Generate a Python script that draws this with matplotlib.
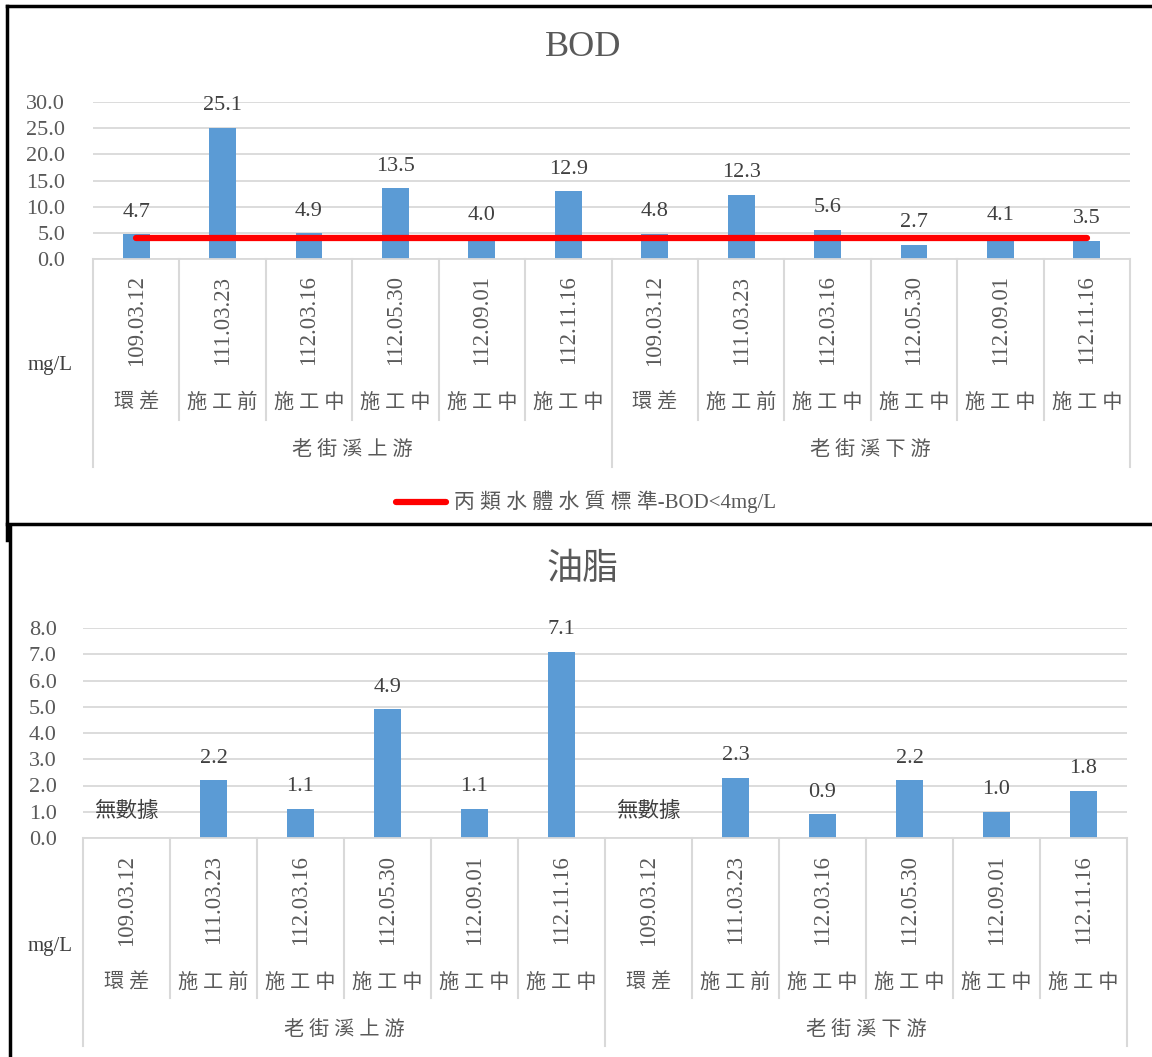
import matplotlib
matplotlib.use('Agg')
import matplotlib.pyplot as plt
from matplotlib.lines import Line2D
import matplotlib.transforms as mtrans
import numpy as np

FAM = ['Liberation Serif', 'Noto Sans CJK TC']
plt.rcParams['font.family'] = FAM

# ---------------- data ----------------
dates = ['109.03.12', '111.03.23', '112.03.16', '112.05.30', '112.09.01', '112.11.16',
         '109.03.12', '111.03.23', '112.03.16', '112.05.30', '112.09.01', '112.11.16']
phases = ['環差', '施工前', '施工中', '施工中', '施工中', '施工中',
          '環差', '施工前', '施工中', '施工中', '施工中', '施工中']
groups = ['老街溪上游', '老街溪下游']
group_size = 6
bod = [4.7, 25.1, 4.9, 13.5, 4.0, 12.9, 4.8, 12.3, 5.6, 2.7, 4.1, 3.5]
oil = [None, 2.2, 1.1, 4.9, 1.1, 7.1, None, 2.3, 0.9, 2.2, 1.0, 1.8]
bod_std = 4.0
bod_std_label = '丙 類 水 體 水 質 標 準-BOD<4mg/L'
no_data_label = '無數據'
no_data_y = 1.0
unit = 'mg/L'

# ---------------- style ----------------
W, H = 1152, 1057
BAR = '#5B9BD5'
GRID = '#D9D9D9'
TXT = '#595959'
LBL = '#404040'
NUMFS = 16
DATEFS = 16.5
CJKFS = 14.5

fig = plt.figure(figsize=(W / 100, H / 100), dpi=100)


def fx(p):
    return p / W


def fy(p):
    return 1 - p / H


def spaced(s):
    return ' '.join(list(s))


def draw_chart(box, ymax, step, values, title, title_y, date_y, sep_short, phase_y,
               group_y, sep_long, unit_y, ypad):
    left, right, top, bottom = box
    ax = fig.add_axes([fx(left), fy(bottom), fx(right - left), (bottom - top) / H])
    n = len(values)
    x = np.arange(n)
    vals = [v if v is not None else 0 for v in values]
    ax.bar(x, vals, width=0.31, color=BAR, zorder=2)
    for xi, v in zip(x, values):
        if v is None:
            ax.text(xi, no_data_y, no_data_label, ha='center', va='center',
                    fontsize=15.5, color=LBL, zorder=4)
        else:
            ax.annotate(f'{v:.1f}', (xi, v), xytext=(0, 16), textcoords='offset points',
                        ha='center', va='center', fontsize=NUMFS, color=LBL, zorder=4)
    ax.set_xlim(-0.5, n - 0.5)
    ax.set_ylim(0, ymax)
    ticks = np.arange(0, ymax + step / 2, step)
    ax.set_yticks(ticks)
    ax.set_yticklabels([f'{t:.1f}' for t in ticks])
    ax.tick_params(axis='y', length=0, pad=ypad, labelsize=NUMFS, labelcolor=TXT)
    ax.set_xticks([])
    ax.grid(axis='y', color=GRID, linewidth=1.3, zorder=0)
    ax.set_axisbelow(True)
    for s in ['top', 'right', 'left']:
        ax.spines[s].set_visible(False)
    ax.spines['bottom'].set_color(GRID)
    ax.spines['bottom'].set_linewidth(1.3)

    tr = mtrans.blended_transform_factory(ax.transData, fig.transFigure)
    # separators
    for b in np.arange(-0.5, n, 1.0):
        long_ = (b == -0.5) or (b == n - 0.5) or (abs((b + 0.5) % group_size) < 1e-9)
        yend = sep_long if long_ else sep_short
        fig.add_artist(Line2D([b, b], [fy(bottom), fy(yend)], transform=tr,
                              color=GRID, linewidth=1.5))
    for xi in x:
        fig.text(xi, fy(date_y), dates[xi], transform=tr, rotation=90, ha='center',
                 va='center', fontsize=DATEFS, color=TXT)
        fig.text(xi, fy(phase_y), spaced(phases[xi]), transform=tr, ha='center',
                 va='center', fontsize=CJKFS, color=TXT)
    for gi, g in enumerate(groups):
        cx = gi * group_size + (group_size - 1) / 2
        fig.text(cx, fy(group_y), spaced(g), transform=tr, ha='center', va='center',
                 fontsize=CJKFS, color=TXT)
    fig.text(fx(50), fy(unit_y), unit, ha='center', va='center', fontsize=15, color=LBL)
    fig.text(fx(583), fy(title_y), title, ha='center', va='center',
             fontsize=26, color=TXT)
    return ax


# -------- top chart: BOD --------
ax1 = draw_chart((93, 1130, 102, 259), 30, 5, bod, 'BOD', 48, 320, 420, 403, 450, 467, 366, 20)
ax1.plot([0, len(bod) - 1], [bod_std, bod_std], color='#FF0000', linewidth=4.5,
         solid_capstyle='round', zorder=3)
# legend
fig.add_artist(Line2D([fx(396), fx(446)], [fy(502), fy(502)], color='#FF0000', linewidth=4.5,
                      solid_capstyle='round'))
fig.text(fx(454), fy(502), bod_std_label, ha='left', va='center', fontsize=15, color=TXT)

# -------- bottom chart: 油脂 --------
ax2 = draw_chart((83, 1127, 628, 838), 8, 1, oil, '油脂', 570, 900, 998, 983, 1030, 1046, 947, 19)

# -------- frames --------
k = '#000000'
fig.add_artist(Line2D([fx(7), fx(W)], [fy(6), fy(6)], color=k, linewidth=2.5))
fig.add_artist(Line2D([fx(7), fx(7)], [fy(6), fy(540)], color=k, linewidth=2.5))
fig.add_artist(Line2D([fx(7), fx(W)], [fy(524), fy(524)], color=k, linewidth=2.5))
fig.add_artist(Line2D([fx(10), fx(10)], [fy(526), fy(H)], color=k, linewidth=2.5))

fig.savefig('out.png', dpi=100)
